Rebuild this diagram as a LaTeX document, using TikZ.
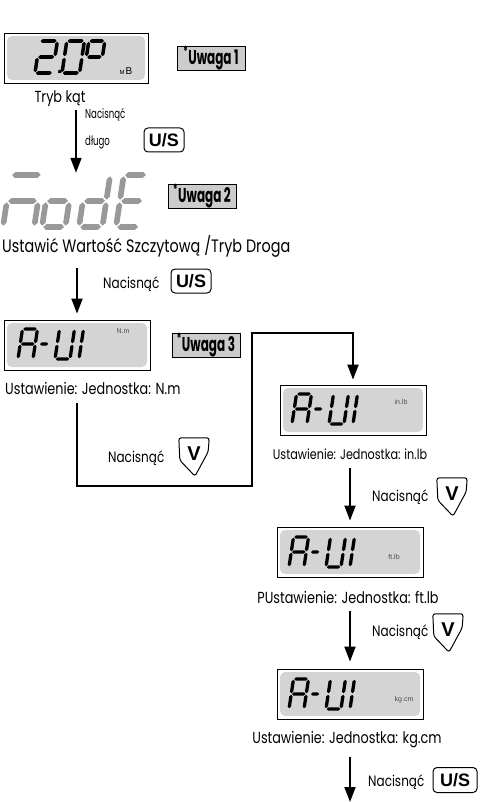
\documentclass[tikz,border=0pt]{standalone}
\usepackage{fontspec}
\setmainfont{Poppins}[FakeStretch=0.8]
\newfontfamily\notefont{Poppins}[FakeStretch=0.6]
\newfontfamily\narrowfont{Poppins}[FakeStretch=0.66]
\newfontfamily\keyfont{Liberation Sans}
\usetikzlibrary{arrows.meta}
\definecolor{lcdbg}{gray}{0.83}
\definecolor{segdim}{gray}{0.6}
\definecolor{notebg}{gray}{0.8}
\definecolor{unitgray}{gray}{0.3}

% seven-segment glyphs, drawn in a local frame of width \dw and height 2
\def\dgap{0.05}
\def\dthk{0.22}
\def\dw{1}
\newcommand\hseg[3]{\fill ({#1+\dgap},{#3}) -- ({#1+\dgap+\dthk/2},{#3+\dthk/2}) -- ({#2-\dgap-\dthk/2},{#3+\dthk/2}) -- ({#2-\dgap},{#3}) -- ({#2-\dgap-\dthk/2},{#3-\dthk/2}) -- ({#1+\dgap+\dthk/2},{#3-\dthk/2}) -- cycle;}
\newcommand\vseg[3]{\fill ({#1},{#2+\dgap}) -- ({#1+\dthk/2},{#2+\dgap+\dthk/2}) -- ({#1+\dthk/2},{#3-\dgap-\dthk/2}) -- ({#1},{#3-\dgap}) -- ({#1-\dthk/2},{#3-\dgap-\dthk/2}) -- ({#1-\dthk/2},{#2+\dgap+\dthk/2}) -- cycle;}
\def\sega{\hseg{0}{\dw}{2}}
\def\segb{\vseg{\dw}{1}{2}}
\def\segc{\vseg{\dw}{0}{1}}
\def\segd{\hseg{0}{\dw}{0}}
\def\sege{\vseg{0}{0}{1}}
\def\segf{\vseg{0}{1}{2}}
\def\segg{\hseg{0}{\dw}{1}}
% #1,#2 bottom-left corner, #3 unit size, #4 width, #5 list of lit segments
\newcommand\lcddigit[5]{%
  \begin{scope}[shift={({#1},{#2})},x=#3pt,y=#3pt,xslant=0.15]
    \def\dw{#4}%
    \foreach \sgname in {#5}{\csname seg\sgname\endcsname}
  \end{scope}}
\newcommand\lcddp[3]{%
  \begin{scope}[shift={({#1},{#2})},x=#3pt,y=#3pt,xslant=0.15]
    \fill (0,0) rectangle (0.2,0.2);
  \end{scope}}
% the word A-UI shown on the unit screens
\newcommand\auiword[2]{%
  \lcddigit{#1}{#2}{15}{1.0}{a,b,c,e,f,g}
  \lcddigit{#1+19}{#2}{15}{0.65}{g}
  \lcddigit{#1+37}{#2}{15}{1.0}{b,c,d,e,f}
  \lcddigit{#1+61}{#2}{15}{1.0}{e,f}}
% shield-shaped down key
\newcommand\vkey[3]{%
  \node[minimum width=30pt,minimum height=38pt,inner sep=0pt] (#1) at (#2,#3) {};
  \draw[line width=1pt,rounded corners=2.5pt] (#1.north west) -- (#1.north east)
    -- ([shift={(-1pt,-14pt)}]#1.north east) -- ([shift={(1pt,0pt)}]#1.south)
    -- ([shift={(1pt,16pt)}]#1.south west) -- cycle;
  \node[font=\keyfont\bfseries\fontsize{20}{20}\selectfont,inner sep=0pt] (#1v) at ([yshift=3pt]#1.center) {V};}

\begin{document}
\begin{tikzpicture}[x=1pt,y=-1pt,
  conn/.style={line width=1.8pt},
  arr/.style={conn,-{Triangle[width=11pt,length=15pt]}},
  lcd/.style={draw,line width=0.8pt,minimum width=146pt,minimum height=50pt,inner sep=0pt,
    path picture={\fill[lcdbg,rounded corners=5pt]
      ([shift={(3pt,-3pt)}]path picture bounding box.north west) rectangle
      ([shift={(-3pt,3pt)}]path picture bounding box.south east);}},
  note/.style={draw,line width=0.8pt,fill=notebg,minimum width=68pt,minimum height=24pt,
    inner sep=0pt,font=\notefont\bfseries\fontsize{20}{20}\selectfont},
  uskey/.style={draw,line width=1pt,rounded corners=4pt,minimum width=40pt,minimum height=24pt,
    inner sep=0pt,font=\keyfont\bfseries\fontsize{18}{18}\selectfont},
  lbl/.style={inner sep=0pt,font=\fontsize{16}{18}\selectfont},
  presslbl/.style={inner sep=0pt,anchor=west,font=\fontsize{15}{17}\selectfont},
  smallpress/.style={inner sep=0pt,anchor=west,font=\narrowfont\fontsize{13}{15}\selectfont},
  unit/.style={inner sep=0pt,text=unitgray,font=\keyfont\fontsize{7}{7}\selectfont}]
\path[use as bounding box] (0,0) rectangle (493,802);

% angle mode screen
\node[lcd,minimum width=144pt] (lcd1) at (76,58) {};
\lcddigit{35}{73}{16}{1.1}{a,b,d,e,g}
\lcddp{58}{73}{16}
\lcddigit{62}{73}{16}{1.1}{a,b,c,d,e,f}
\lcddigit{84}{73}{16}{1.0}{a,b,f,g}
\node[inner sep=0pt,font=\keyfont\fontsize{6}{6}\selectfont] (mb) at (126,71) {M\,{\fontsize{10}{10}\selectfont B}};
\node[note] (uw1) at (211,58) {\textsuperscript{*}Uwaga 1};
\node[lbl] (kat) at (60,99) {Tryb kąt};
\node[smallpress] (p1a) at (85,115) {Nacisnąć};
\node[smallpress] (p1b) at (85,142) {długo};
\node[uskey] (us1) at (164,140) {U/S};

% mode word
\node[inner sep=0pt,minimum width=145pt,minimum height=52pt] (mode) at (76,201) {};
\begin{scope}[color=segdim]
\lcddigit{3}{227}{26}{1.2}{a,c,e,g}
\lcddigit{42}{227}{26}{0.9}{c,d,e,g}
\lcddigit{79}{227}{26}{0.9}{b,c,d,e,g}
\lcddigit{116}{227}{26}{0.9}{a,d,e,f,g}
\end{scope}
\node[note] (uw2) at (202,196) {\textsuperscript{*}Uwaga 2};
\node[lbl,anchor=west,font=\fontsize{18}{20}\selectfont] (ust) at (2,246) {Ustawić Wartość Szczytową /Tryb Droga};
\node[presslbl] (p2) at (103,284) {Nacisnąć};
\node[uskey] (us2) at (191,281) {U/S};

% unit N.m
\node[lcd] (lcd3) at (77,345) {};
\auiword{18}{359}
\node[unit] (u3) at (123,331) {N.m};
\node[note] (uw3) at (206,345) {\textsuperscript{*}Uwaga 3};
\node[lbl,anchor=west] (t3) at (5,388) {Ustawienie: Jednostka: N.m};
\node[presslbl] (p3) at (108,458) {Nacisnąć};
\vkey{vk3}{194}{457}

% unit in.lb
\node[lcd] (lcd4) at (353,410) {};
\auiword{292}{424}
\node[unit] (u4) at (401,402) {in.lb};
\node[lbl,font=\fontsize{14}{16}\selectfont] (t4) at (350,454) {Ustawienie: Jednostka: in.lb};
\node[presslbl] (p4) at (372,497) {Nacisnąć};
\vkey{vk4}{452}{497}

% unit ft.lb
\node[lcd] (lcd5) at (350,552) {};
\auiword{289}{567}
\node[unit] (u5) at (394,557) {ft.lb};
\node[lbl] (t5) at (348,597) {PUstawienie: Jednostka: ft.lb};
\node[presslbl] (p5) at (372,632) {Nacisnąć};
\vkey{vk5}{448}{633}

% unit kg.cm
\node[lcd] (lcd6) at (350,694) {};
\auiword{289}{709}
\node[unit] (u6) at (404,700) {kg.cm};
\node[lbl] (t6) at (347,740) {Ustawienie: Jednostka: kg.cm};
\node[presslbl] (p6) at (368,782) {Nacisnąć};
\node[uskey,minimum width=44pt,minimum height=25pt] (us6) at (455,780) {U/S};

% connectors
\draw[arr,shorten <=3pt,shorten >=2pt] (kat.south -| lcd1.south) -- (mode.north -| lcd1.south);
\draw[arr,shorten <=11pt,shorten >=6pt] (ust.south -| lcd3.north) -- (lcd3.north);
\coordinate (lpB) at (252,486);
\coordinate (lpT) at (252,333);
\draw[arr,shorten <=9pt,shorten >=5pt] (t3.south -| lcd3.south) |- (lpB) -- (lpT) -| (lcd4.north);
\draw[arr,shorten <=8pt,shorten >=6pt] (t4.south -| lcd5.north) -- (lcd5.north);
\draw[arr,shorten <=8pt,shorten >=7pt] (t5.south -| lcd6.north) -- (lcd6.north);
\coordinate (end6) at (350,802);
\draw[arr,shorten <=9pt] (t6.south -| end6) -- (end6);
\end{tikzpicture}
\end{document}
